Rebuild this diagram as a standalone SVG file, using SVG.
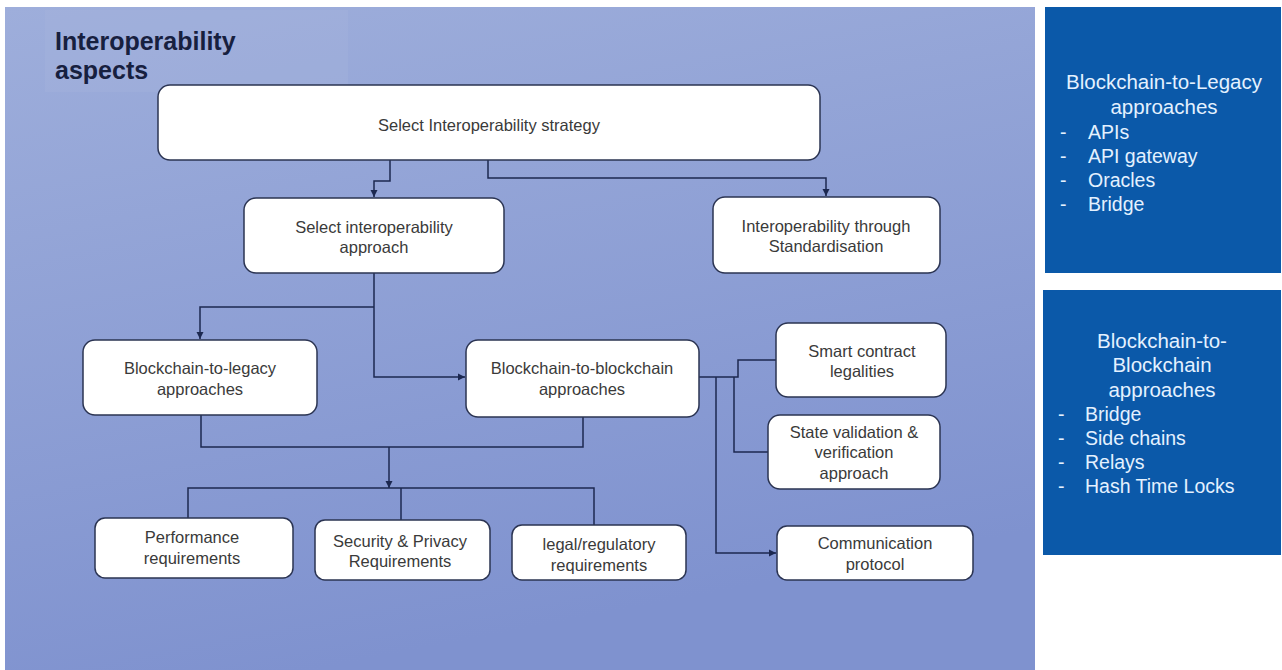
<svg xmlns="http://www.w3.org/2000/svg" width="1282" height="670" viewBox="0 0 1282 670">
  <defs>
    <linearGradient id="bg" x1="0" y1="0" x2="0.3" y2="1">
      <stop offset="0" stop-color="#9eaedb"/>
      <stop offset="1" stop-color="#7f92cf"/>
    </linearGradient>
    <marker id="arrow" markerWidth="8" markerHeight="8" refX="7" refY="4" orient="auto" markerUnits="userSpaceOnUse">
      <path d="M0,0.5 L7,4 L0,7.5 z" fill="#1c2850"/>
    </marker>
    <style>
      .node rect { fill: #ffffff; stroke: #2b3452; stroke-width: 1.5; }
      .node text { font-family: "Liberation Sans", Arial, sans-serif; font-size: 16.5px; fill: #3a3a3a; text-anchor: middle; }
      .conn path { fill: none; stroke: #1c2850; stroke-width: 1.5; }
      .title { font-family: "Liberation Sans", Arial, sans-serif; font-size: 25px; font-weight: bold; fill: #17203f; }
      .panel rect { fill: #0b59a9; }
      .panel text { font-family: "Liberation Sans", Arial, sans-serif; fill: #e4f1ff; }
      .panel .head { font-size: 20.5px; text-anchor: middle; }
      .panel .item { font-size: 19.5px; }
    </style>
  </defs>

  <!-- page -->
  <rect x="0" y="0" width="1282" height="670" fill="#ffffff"/>
  <rect x="5" y="7" width="1030" height="663" fill="url(#bg)"/>

  <!-- heading -->
  <g id="title">
    <rect x="45" y="10" width="303" height="82" fill="#a6b5dd" opacity="0.35"/>
    <text class="title" x="55" y="50">Interoperability</text>
    <text class="title" x="55" y="79">aspects</text>
  </g>

  <!-- connectors -->
  <g id="connectors" class="conn">
    <path d="M390,160 V181 H374 V197" marker-end="url(#arrow)"/>
    <path d="M488,160 V178 H826 V196" marker-end="url(#arrow)"/>
    <path d="M374,273 V377 H465" marker-end="url(#arrow)"/>
    <path d="M374,307 H200 V339" marker-end="url(#arrow)"/>
    <path d="M699,377 H738 V360 H776"/>
    <path d="M734,377 V452 H768"/>
    <path d="M716,377 V553 H776" marker-end="url(#arrow)"/>
    <path d="M201,415 V447 H583 V417"/>
    <path d="M389,447 V488" marker-end="url(#arrow)"/>
    <path d="M188,518 V488 H594 V525"/>
    <path d="M401,488 V520"/>
  </g>

  <!-- nodes -->
  <g id="strategy" class="node">
    <rect x="158" y="85" width="662" height="75" rx="12"/>
    <text x="489" y="131">Select Interoperability strategy</text>
  </g>
  <g id="approach" class="node">
    <rect x="244" y="198" width="260" height="75" rx="12"/>
    <text x="374" y="233">Select interoperability</text>
    <text x="374" y="253">approach</text>
  </g>
  <g id="standardisation" class="node">
    <rect x="713" y="197" width="227" height="76" rx="12"/>
    <text x="826" y="232">Interoperability through</text>
    <text x="826" y="252">Standardisation</text>
  </g>
  <g id="b2l" class="node">
    <rect x="83" y="340" width="234" height="75" rx="12"/>
    <text x="200" y="374">Blockchain-to-legacy</text>
    <text x="200" y="395">approaches</text>
  </g>
  <g id="b2b" class="node">
    <rect x="466" y="340" width="233" height="77" rx="12"/>
    <text x="582" y="374">Blockchain-to-blockchain</text>
    <text x="582" y="395">approaches</text>
  </g>
  <g id="smart-contract" class="node">
    <rect x="776" y="323" width="170" height="74" rx="12"/>
    <text x="862" y="357">Smart contract</text>
    <text x="862" y="377">legalities</text>
  </g>
  <g id="state-validation" class="node">
    <rect x="768" y="415" width="172" height="74" rx="12"/>
    <text x="854" y="438">State validation &amp;</text>
    <text x="854" y="458">verification</text>
    <text x="854" y="479">approach</text>
  </g>
  <g id="communication" class="node">
    <rect x="777" y="526" width="196" height="54" rx="10"/>
    <text x="875" y="549">Communication</text>
    <text x="875" y="570">protocol</text>
  </g>
  <g id="performance" class="node">
    <rect x="95" y="518" width="198" height="60" rx="10"/>
    <text x="192" y="543">Performance</text>
    <text x="192" y="564">requirements</text>
  </g>
  <g id="security" class="node">
    <rect x="315" y="520" width="175" height="60" rx="10"/>
    <text x="400" y="547">Security &amp; Privacy</text>
    <text x="400" y="567">Requirements</text>
  </g>
  <g id="legal" class="node">
    <rect x="512" y="525" width="174" height="55" rx="10"/>
    <text x="599" y="550">legal/regulatory</text>
    <text x="599" y="571">requirements</text>
  </g>

  <!-- side panels -->
  <g id="legacy-panel" class="panel">
    <rect x="1045" y="7" width="236" height="266"/>
    <text class="head" x="1164" y="89">Blockchain-to-Legacy</text>
    <text class="head" x="1164" y="114">approaches</text>
    <text class="item" x="1060" y="139">-</text>
    <text class="item" x="1088" y="139">APIs</text>
    <text class="item" x="1060" y="163">-</text>
    <text class="item" x="1088" y="163">API gateway</text>
    <text class="item" x="1060" y="187">-</text>
    <text class="item" x="1088" y="187">Oracles</text>
    <text class="item" x="1060" y="211">-</text>
    <text class="item" x="1088" y="211">Bridge</text>
  </g>
  <g id="blockchain-panel" class="panel">
    <rect x="1043" y="290" width="238" height="265"/>
    <text class="head" x="1162" y="348">Blockchain-to-</text>
    <text class="head" x="1162" y="372">Blockchain</text>
    <text class="head" x="1162" y="397">approaches</text>
    <text class="item" x="1058" y="421">-</text>
    <text class="item" x="1085" y="421">Bridge</text>
    <text class="item" x="1058" y="445">-</text>
    <text class="item" x="1085" y="445">Side chains</text>
    <text class="item" x="1058" y="469">-</text>
    <text class="item" x="1085" y="469">Relays</text>
    <text class="item" x="1058" y="493">-</text>
    <text class="item" x="1085" y="493">Hash Time Locks</text>
  </g>
</svg>
